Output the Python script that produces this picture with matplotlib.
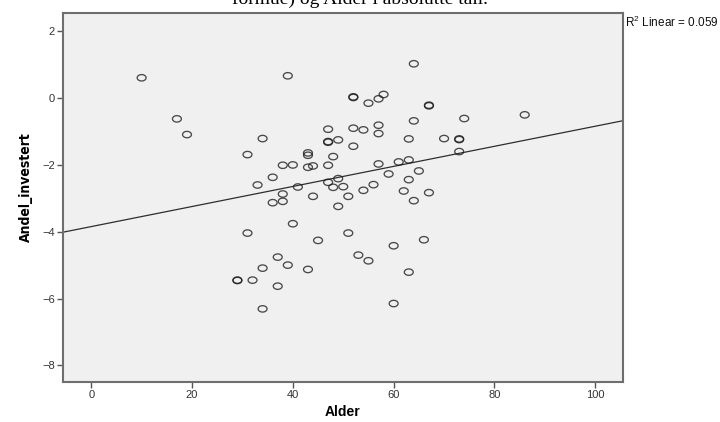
import numpy as np
import matplotlib
matplotlib.use("Agg")
import matplotlib.pyplot as plt
from matplotlib.path import Path
from matplotlib import font_manager

# Alder (age) and Andel_investert for each respondent
alder = [
    10, 39, 52, 52, 55, 57, 58, 17, 19, 34,
    47, 52, 54, 57, 57, 47, 47, 49, 52, 31,
    43, 43, 48, 38, 40, 43, 44, 47, 57, 61,
    59, 36, 33, 41, 47, 49, 48, 50, 38, 36,
    38, 44, 51, 54, 56, 49, 64, 67, 67, 64,
    74, 86, 63, 70, 73, 73, 73, 63, 65, 63,
    62, 67, 64, 40, 31, 51, 45, 60, 66, 53,
    55, 37, 34, 39, 43, 63, 29, 29, 32, 37,
    34, 60,
]
andel_investert = [
    0.61, 0.67, 0.04, 0.02, -0.15, -0.02, 0.11, -0.62, -1.09, -1.21,
    -0.93, -0.90, -0.95, -0.81, -1.06, -1.30, -1.32, -1.25, -1.44, -1.69,
    -1.64, -1.71, -1.75, -2.01, -2.00, -2.07, -2.03, -2.01, -1.97, -1.91,
    -2.27, -2.37, -2.60, -2.66, -2.52, -2.41, -2.67, -2.65, -2.87, -3.13,
    -3.09, -2.94, -2.94, -2.76, -2.59, -3.24, 1.03, -0.21, -0.23, -0.68,
    -0.61, -0.50, -1.22, -1.21, -1.22, -1.24, -1.60, -1.85, -2.18, -2.44,
    -2.78, -2.83, -3.07, -3.76, -4.04, -4.04, -4.26, -4.42, -4.24, -4.70,
    -4.87, -4.76, -5.09, -5.00, -5.13, -5.21, -5.45, -5.46, -5.45, -5.63,
    -6.31, -6.15,
]
r2_text = "0.059"

x_ticks = [0, 20, 40, 60, 80, 100]
y_ticks = [-8, -6, -4, -2, 0, 2]

plt.rcParams["font.family"] = ["Liberation Sans", "DejaVu Sans"]
plt.rcParams["mathtext.fontset"] = "custom"
plt.rcParams["mathtext.rm"] = "Liberation Sans"

# a narrow bold face for the vertical axis title
narrow_file = None
for f in font_manager.fontManager.ttflist:
    if f.name == "Liberation Sans Narrow" and f.weight in ("bold", 700):
        narrow_file = f.fname
        break
if narrow_file is None:
    for f in font_manager.fontManager.ttflist:
        if f.name == "DejaVu Sans" and "Condensed" in f.fname and "Bold" in f.fname \
                and "Oblique" not in f.fname:
            narrow_file = f.fname
            break
if narrow_file is not None:
    ylabel_font = font_manager.FontProperties(fname=narrow_file, size=10)
else:
    ylabel_font = font_manager.FontProperties(family="Liberation Sans", weight="bold", size=9.5)

fig = plt.figure(figsize=(7.2, 4.22), dpi=100)
fig.patch.set_facecolor("white")
ax = fig.add_axes([63 / 720, 1 - 382 / 422, 560 / 720, 369 / 422])
ax.set_facecolor("#f0f0f0")

# slightly flattened open circle marker
t = np.linspace(0, 2 * np.pi, 60)
ellipse = Path(np.column_stack([np.cos(t), 0.72 * np.sin(t)]), closed=True)

x = np.array(alder, dtype=float)
y = np.array(andel_investert, dtype=float)
ax.scatter(x, y, marker=ellipse, s=6.4 ** 2, facecolors="none",
           edgecolors=(0.1, 0.1, 0.1, 0.78), linewidths=0.95, zorder=3)

xlim = (-5.6, 105.5)
ylim = (-8.5, 2.55)
slope, intercept = np.polyfit(x, y, 1)
xs = np.array(xlim)
ax.plot(xs, intercept + slope * xs, color="#2e2e2e", lw=0.9, zorder=2)

ax.set_xlim(*xlim)
ax.set_ylim(*ylim)
ax.set_xticks(x_ticks)
ax.set_yticks(y_ticks)

for side in ("top", "right", "bottom", "left"):
    ax.spines[side].set_color("#6e6e6e")
    ax.spines[side].set_linewidth(1.5)
ax.tick_params(axis="both", direction="out", length=4, width=1,
               color="#555555", labelsize=8, labelcolor="#333333", pad=2)

ax.set_xlabel("Alder", fontsize=10, fontweight="bold", labelpad=3)
ax.set_ylabel("Andel_investert", fontproperties=ylabel_font)
ax.yaxis.set_label_coords(-30 / 560, (382 - 187) / 369)

fig.text(625 / 720, 1 - 22 / 422, r"R$^2$ Linear = " + r2_text,
         fontsize=8.5, va="center", ha="left", color="#111111")

fig.text(360 / 720, 1 - 4 / 422, "formue) og Alder i absolutte tall.",
         family=["Liberation Serif", "DejaVu Serif"], fontsize=14,
         ha="center", va="baseline", color="black")

fig.savefig("out.png", dpi=100)
